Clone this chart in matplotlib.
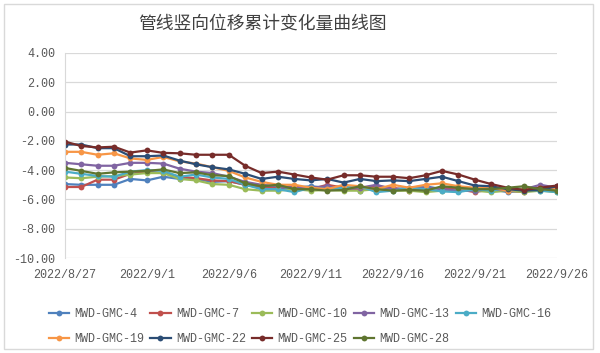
import matplotlib
matplotlib.use("Agg")
import matplotlib.pyplot as plt
import pandas as pd
from matplotlib.patches import Rectangle

title = "管线竖向位移累计变化量曲线图"
dates = pd.date_range("2022-08-27", "2022-09-26", freq="D")
tick_dates = ["2022-08-27", "2022-09-01", "2022-09-06", "2022-09-11", "2022-09-16", "2022-09-21", "2022-09-26"]
tick_labels = ["2022/8/27", "2022/9/1", "2022/9/6", "2022/9/11", "2022/9/16", "2022/9/21", "2022/9/26"]

names = ["MWD-GMC-4", "MWD-GMC-7", "MWD-GMC-10", "MWD-GMC-13", "MWD-GMC-16",
         "MWD-GMC-19", "MWD-GMC-22", "MWD-GMC-25", "MWD-GMC-28"]

s4 = [-4.95, -5.0, -5.0, -5.0, -4.6, -4.7, -4.45, -4.6, -4.6, -4.8, -4.75, -5.0, -5.2, -5.3, -5.2, -5.1,
      -5.2, -5.1, -5.4, -5.2, -5.3, -5.2, -5.1, -5.3, -5.4, -5.2, -5.3, -5.5, -5.4, -5.3, -5.2]
s7 = [-5.15, -5.15, -4.65, -4.65, -4.25, -4.1, -4.2, -4.45, -4.55, -4.7, -4.75, -5.0, -5.1, -5.2, -5.1, -5.3,
      -5.0, -5.2, -5.3, -5.1, -5.2, -5.4, -5.3, -5.2, -5.3, -5.5, -5.3, -5.4, -5.5, -5.2, -5.1]
s10 = [-4.5, -4.55, -4.45, -4.4, -4.3, -4.2, -4.2, -4.6, -4.7, -4.95, -5.0, -5.3, -5.4, -5.4, -5.3, -5.4,
       -5.35, -5.4, -5.4, -5.3, -5.4, -5.4, -5.5, -5.4, -5.35, -5.4, -5.5, -5.4, -5.5, -5.4, -5.5]
s13 = [-3.5, -3.6, -3.7, -3.7, -3.5, -3.5, -3.55, -3.9, -4.1, -4.2, -4.45, -4.8, -5.0, -5.1, -5.2, -5.2,
       -5.1, -5.3, -5.2, -5.0, -5.3, -5.3, -5.2, -5.3, -5.4, -5.4, -5.3, -5.4, -5.3, -5.0, -5.2]
s16 = [-4.1, -4.25, -4.4, -4.45, -4.1, -4.0, -4.05, -4.45, -4.3, -4.5, -4.6, -5.0, -5.3, -5.3, -5.5, -5.2,
       -5.3, -5.2, -5.1, -5.5, -5.4, -5.2, -5.3, -5.45, -5.5, -5.3, -5.4, -5.2, -5.3, -5.4, -5.5]
s19 = [-2.75, -2.75, -2.95, -2.85, -3.2, -3.3, -3.1, -3.4, -3.55, -3.8, -4.05, -4.5, -4.8, -5.0, -5.0, -5.2,
       -5.3, -5.0, -5.1, -5.3, -5.0, -5.2, -5.0, -4.9, -5.1, -5.2, -5.2, -5.4, -5.3, -5.2, -5.3]
s22 = [-2.25, -2.25, -2.5, -2.5, -3.05, -3.05, -3.0, -3.35, -3.6, -3.8, -3.95, -4.25, -4.6, -4.45, -4.6, -4.7,
       -4.6, -4.85, -4.6, -4.75, -4.7, -4.75, -4.6, -4.45, -4.75, -5.05, -5.1, -5.3, -5.4, -5.35, -5.1]
s25 = [-2.05, -2.35, -2.45, -2.4, -2.8, -2.65, -2.82, -2.85, -2.95, -2.95, -2.95, -3.7, -4.2, -4.1, -4.3, -4.5,
       -4.65, -4.35, -4.35, -4.45, -4.45, -4.55, -4.35, -4.05, -4.3, -4.65, -4.95, -5.2, -5.35, -5.2, -5.05]
s28 = [-3.85, -4.05, -4.25, -4.15, -4.1, -4.05, -3.95, -4.2, -4.15, -4.35, -4.4, -4.9, -5.1, -5.0, -5.3, -5.3,
       -5.4, -5.35, -5.1, -5.3, -5.4, -5.35, -5.4, -5.1, -5.2, -5.3, -5.3, -5.2, -5.1, -5.3, -5.4]

series = [s4, s7, s10, s13, s16, s19, s22, s25, s28]
colors = ["#4F81BD", "#C0504D", "#9BBB59", "#8064A2", "#4BACC6",
          "#F79646", "#2C4D75", "#772C2A", "#5F7530"]

yticks = [4, 2, 0, -2, -4, -6, -8, -10]

txt = "#595959"
mono = ["Liberation Mono", "DejaVu Sans Mono"]
fs = 8.5

fig = plt.figure(figsize=(6.0, 3.53), dpi=100)
fig.patches.append(Rectangle((0.006, 0.012), 0.982, 0.978, transform=fig.transFigure,
                             fill=False, edgecolor="#D9D9D9", linewidth=1.0))
ax = fig.add_axes([0.108, 0.269, 0.820, 0.581])

handles = []
for name, vals, c in zip(names, series, colors):
    h, = ax.plot(dates, vals, color=c, linewidth=1.6, marker="o", markersize=4.2,
                 markeredgewidth=0, label=name)
    handles.append(h)

ax.set_ylim(-10, 4)
ax.set_yticks(yticks)
ax.set_yticklabels([f"{v:.2f}" for v in yticks], family=mono, fontsize=fs, color=txt)
ax.set_xlim(dates[0], dates[-1])
ax.set_xticks(pd.to_datetime(tick_dates))
ax.set_xticklabels(tick_labels, family=mono, fontsize=fs, color=txt)
ax.tick_params(axis="y", length=0, pad=7)
ax.tick_params(axis="x", length=0, pad=8)
ax.grid(axis="y", color="#D9D9D9", linewidth=0.9)
for side in ["top", "right", "bottom"]:
    ax.spines[side].set_visible(False)
ax.spines["left"].set_color("#D9D9D9")
ax.set_axisbelow(True)

fig.text(0.437, 0.933, title, ha="center", va="center", fontsize=12.8,
         color="#404040", family=["Noto Sans CJK SC", "DejaVu Sans"])

# row-major order for a 5-column legend
order = [0, 5, 1, 6, 2, 7, 3, 8, 4]
leg = fig.legend([handles[i] for i in order], [names[i] for i in order],
                 loc="center", bbox_to_anchor=(0.5, 0.075), ncol=5, frameon=False,
                 prop={"family": mono, "size": fs}, handlelength=1.7, handletextpad=0.45,
                 columnspacing=0.55, labelspacing=1.05, borderpad=0)
for t in leg.get_texts():
    t.set_color(txt)

fig.savefig("out.png", dpi=100, facecolor="white")
